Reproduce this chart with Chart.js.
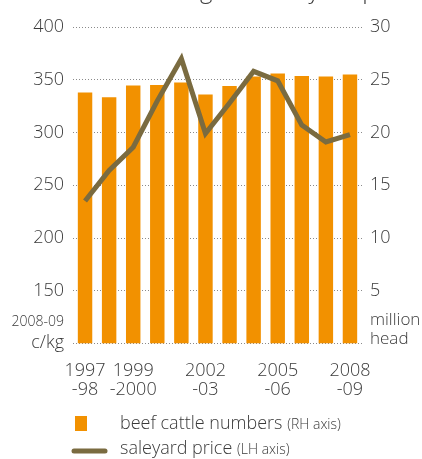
<!DOCTYPE html>
<html>
<head>
<meta charset="utf-8">
<script src="https://cdn.jsdelivr.net/npm/chart.js@4"></script>
<style>
  html, body { margin: 0; padding: 0; background: #fff; }
  #wrap { position: relative; width: 422px; height: 459px; }
</style>
</head>
<body>
<div id="wrap"><canvas id="myChart" width="422" height="459"></canvas></div>
<script>
// data
var years = ["1997-98","1998-99","1999-2000","2000-01","2001-02","2002-03","2003-04","2004-05","2005-06","2006-07","2007-08","2008-09"];
var cattleNumbers = [23.8, 23.35, 24.45, 24.5, 24.75, 23.6, 24.4, 25.3, 25.6, 25.35, 25.3, 25.5]; // million head (RH)
var saleyardPrice = [235, 264, 286, 330, 370, 299, 328, 358, 349, 307, 291, 298]; // 2008-09 c/kg (LH)
var xTickLabels = [["1997","-98"], [], ["1999","-2000"], [], [], ["2002","-03"], [], [], ["2005","-06"], [], [], ["2008","-09"]];

var FONT = "'Open Sans', 'Noto Sans', sans-serif";
var TXT = "#3a3a3a";
var ORANGE = "#F29100";
var OLIVE = "#7A6B40";

var extras = {
    id: "extras",
    afterDraw: function (chart) {
        var ctx = chart.ctx;
        var yl = chart.scales.y;
        ctx.save();
        ctx.fillStyle = TXT;

        // clipped title, only the descenders show
        ctx.font = "300 24px " + FONT;
        ctx.textAlign = "left";
        ctx.textBaseline = "alphabetic";
        var t1 = "Beef cattle herdin";
        var title = t1 + "g and saleyard price";
        var w1 = ctx.measureText(t1).width;
        ctx.fillText(title, 200 - w1, -2);
        ctx.textBaseline = "middle";

        // unit labels
        var base = yl.getPixelForValue(100);
        ctx.textAlign = "right";
        ctx.font = "300 14px " + FONT;
        ctx.fillText("2008-09", 64, base - 21);
        ctx.font = "300 18px " + FONT;
        ctx.fillText("c/kg", 64, base - 1);
        ctx.textAlign = "left";
        ctx.font = "300 17px " + FONT;
        ctx.fillText("million", 370, base - 23);
        ctx.fillText("head", 370, base - 4);

        // legend
        ctx.fillStyle = ORANGE;
        ctx.fillRect(75, 416, 12, 15);
        ctx.strokeStyle = OLIVE;
        ctx.lineWidth = 5;
        ctx.lineCap = "round";
        ctx.beginPath();
        ctx.moveTo(74, 451);
        ctx.lineTo(105, 451);
        ctx.stroke();

        ctx.fillStyle = TXT;
        ctx.font = "300 18px " + FONT;
        var a = "beef cattle numbers ";
        ctx.fillText(a, 120, 424);
        var aw = ctx.measureText(a).width;
        ctx.font = "300 14px " + FONT;
        ctx.fillText("(RH axis)", 120 + aw, 425);
        ctx.font = "300 18px " + FONT;
        var b = "saleyard price ";
        ctx.fillText(b, 120, 449);
        var bw = ctx.measureText(b).width;
        ctx.font = "300 14px " + FONT;
        ctx.fillText("(LH axis)", 120 + bw, 450);
        ctx.restore();
    }
};

new Chart("myChart", {
    data: {
        labels: years,
        datasets: [{
            type: "line",
            label: "saleyard price",
            data: saleyardPrice,
            yAxisID: "y",
            borderColor: OLIVE,
            borderWidth: 5,
            pointRadius: 0,
            tension: 0,
            order: 1
        }, {
            type: "bar",
            label: "beef cattle numbers",
            data: cattleNumbers,
            yAxisID: "y1",
            backgroundColor: ORANGE,
            categoryPercentage: 1,
            barPercentage: 0.6,
            order: 2
        }]
    },
    options: {
        responsive: false,
        animation: false,
        layout: { padding: { top: 27, bottom: 55.5, left: 0, right: 0 } },
        plugins: { legend: { display: false }, tooltip: { enabled: false } },
        scales: {
            x: {
                offset: true,
                grid: { display: false },
                border: { display: false },
                ticks: {
                    autoSkip: false,
                    maxRotation: 0,
                    padding: 10,
                    color: TXT,
                    font: { family: FONT, size: 18, weight: 300, lineHeight: 1.05 },
                    callback: function (v, i) { return xTickLabels[i]; }
                },
                afterFit: function (s) { s.height = 60; }
            },
            y: {
                position: "left",
                min: 100,
                max: 400,
                ticks: {
                    stepSize: 50,
                    padding: 9,
                    color: TXT,
                    font: { family: FONT, size: 18, weight: 300 },
                    callback: function (v) { return v === 100 ? "" : v; }
                },
                grid: { color: "#8a8a8a", lineWidth: 1, drawTicks: false },
                border: { display: false, dash: [1, 2] },
                afterFit: function (s) { s.width = 73; }
            },
            y1: {
                position: "right",
                min: 0,
                max: 30,
                ticks: {
                    stepSize: 5,
                    padding: 8,
                    color: TXT,
                    font: { family: FONT, size: 18, weight: 300 },
                    callback: function (v) { return v === 0 ? "" : v; }
                },
                grid: { display: false, drawTicks: false },
                border: { display: false },
                afterFit: function (s) { s.width = 60; }
            }
        }
    },
    plugins: [extras]
});
</script>
</body>
</html>
